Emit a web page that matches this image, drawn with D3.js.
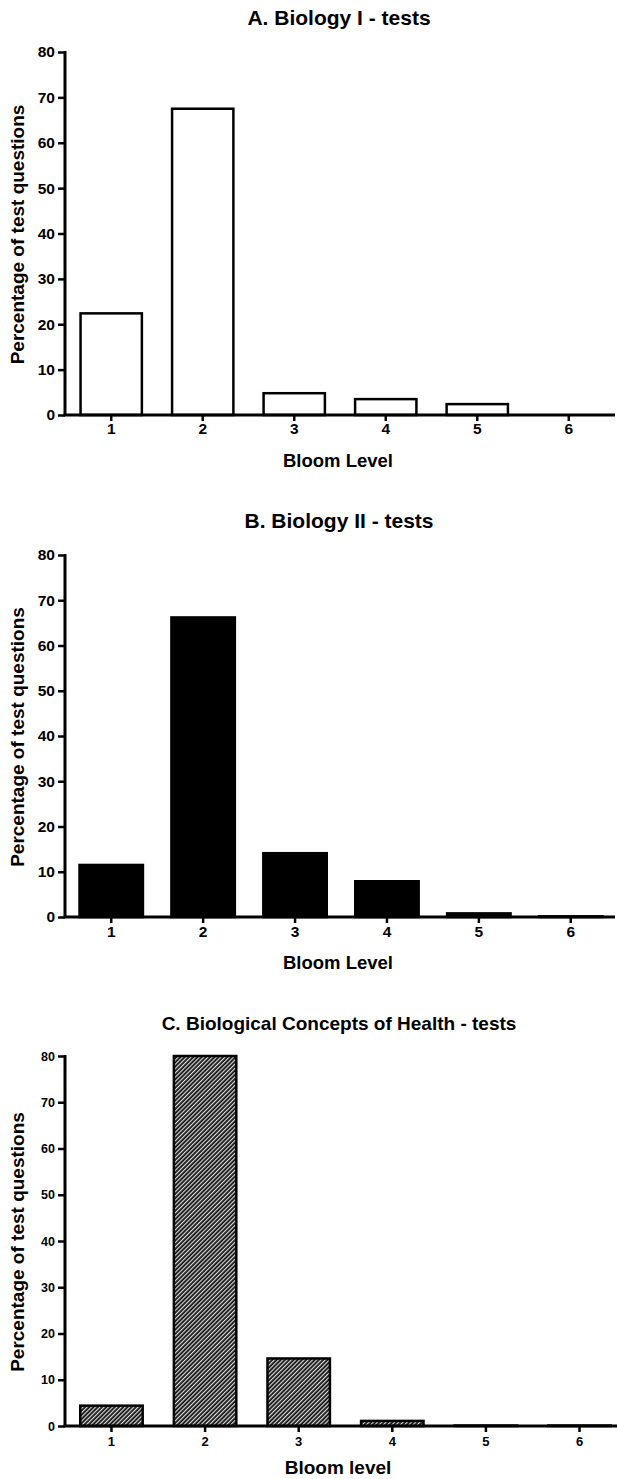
<!DOCTYPE html>
<html>
<head>
<meta charset="utf-8">
<script src="https://cdn.jsdelivr.net/npm/d3@7"></script>
<style>
  body { margin: 0; background: #fff; }
  text { font-family: "Liberation Sans", Arial, sans-serif; font-weight: bold; fill: #000; }
</style>
</head>
<body>
<div id="chart"></div>
<script>
// data
var bloomLevels = ["1", "2", "3", "4", "5", "6"];
var yTicks = [0, 10, 20, 30, 40, 50, 60, 70, 80];
var bio1Values = [22.4, 67.5, 4.8, 3.5, 2.4, 0];
var bio2Values = [11.5, 66.2, 14.1, 7.9, 0.8, 0.15];
var healthValues = [4.4, 80.0, 14.6, 1.1, 0.1, 0.1];
var titles = ["A. Biology I - tests", "B. Biology II - tests", "C. Biological Concepts of Health - tests"];
var xLabels = ["Bloom Level", "Bloom Level", "Bloom level"];
var yLabel = "Percentage of test questions";

var svg = d3.select("#chart").append("svg")
    .attr("width", 617)
    .attr("height", 1479);

// hatch pattern for panel C
var defs = svg.append("defs");
var pat = defs.append("pattern")
    .attr("id", "hatch")
    .attr("patternUnits", "userSpaceOnUse")
    .attr("width", 3).attr("height", 3)
    .attr("patternTransform", "rotate(45)");
pat.append("rect").attr("width", 3).attr("height", 3).attr("fill", "#111");
pat.append("rect").attr("x", 0).attr("width", 1.2).attr("height", 3).attr("fill", "#ddd");

var left = 65;

var panels = [
  {values: bio1Values, top: 52, bottom: 415, rangeEnd: 615, pInner: 0.33, pOuter: 0.17,
   titleY: 25, titleFont: 21, tickFont: 15.5, xTickFont: 15.5, xTickPad: 2, labelY: 467, labelFont: 18.5,
   fill: "#fff", axisEnd: 615},
  {values: bio2Values, top: 555, bottom: 917, rangeEnd: 617, pInner: 0.31, pOuter: 0.158,
   titleY: 528, titleFont: 21, tickFont: 15.5, xTickFont: 15.5, xTickPad: 3, labelY: 969, labelFont: 18.5,
   fill: "#000", axisEnd: 615},
  {values: healthValues, top: 1056, bottom: 1426, rangeEnd: 626, pInner: 0.333, pOuter: 0.163,
   titleY: 1030, titleFont: 19, tickFont: 12.5, xTickFont: 13, xTickPad: 5, labelY: 1474, labelFont: 19,
   fill: "url(#hatch)", axisEnd: 617}
];

panels.forEach(function(p, i) {
  var g = svg.append("g");

  var x = d3.scaleBand()
    .domain(bloomLevels)
    .range([left, p.rangeEnd])
    .paddingInner(p.pInner)
    .paddingOuter(p.pOuter);

  var y = d3.scaleLinear()
    .domain([0, 80])
    .range([p.bottom, p.top]);

  // bars
  g.selectAll("rect.bar")
    .data(p.values)
    .enter()
    .append("rect")
    .attr("class", "bar")
    .attr("x", function(d, j) { return x(bloomLevels[j]); })
    .attr("y", function(d) { return y(d); })
    .attr("width", x.bandwidth())
    .attr("height", function(d) { return p.bottom - y(d); })
    .attr("fill", p.fill)
    .attr("stroke", "#000")
    .attr("stroke-width", 2.5);

  // y axis
  var yAxis = g.append("g")
    .attr("transform", "translate(" + left + ",0)")
    .call(d3.axisLeft(y).tickValues(yTicks).tickSize(7).tickPadding(3));
  yAxis.selectAll("line").attr("stroke", "#000").attr("stroke-width", 2.5);
  yAxis.select("path").attr("stroke", "#000").attr("stroke-width", 3)
    .attr("d", "M0," + (p.top - 1) + "V" + p.bottom);
  yAxis.selectAll("text").style("font-size", p.tickFont + "px").attr("fill", "#000");

  // x axis
  var xAxis = g.append("g")
    .attr("transform", "translate(0," + p.bottom + ")")
    .call(d3.axisBottom(x).tickSize(6).tickPadding(p.xTickPad));
  xAxis.selectAll("line").attr("stroke", "#000").attr("stroke-width", 2.5);
  xAxis.select("path").attr("stroke", "#000").attr("stroke-width", 3)
    .attr("d", "M" + (left - 1.5) + ",0H" + p.axisEnd);
  xAxis.selectAll("text").style("font-size", p.xTickFont + "px").attr("fill", "#000");

  // title
  g.append("text")
    .attr("x", 339)
    .attr("y", p.titleY)
    .attr("text-anchor", "middle")
    .style("font-size", p.titleFont + "px")
    .text(titles[i]);

  // x label
  g.append("text")
    .attr("x", 338)
    .attr("y", p.labelY)
    .attr("text-anchor", "middle")
    .style("font-size", p.labelFont + "px")
    .text(xLabels[i]);

  // y label
  g.append("text")
    .attr("transform", "translate(24," + ((p.top + p.bottom) / 2 + 1) + ")rotate(-90)")
    .attr("text-anchor", "middle")
    .style("font-size", "19px")
    .text(yLabel);
});
</script>
</body>
</html>
